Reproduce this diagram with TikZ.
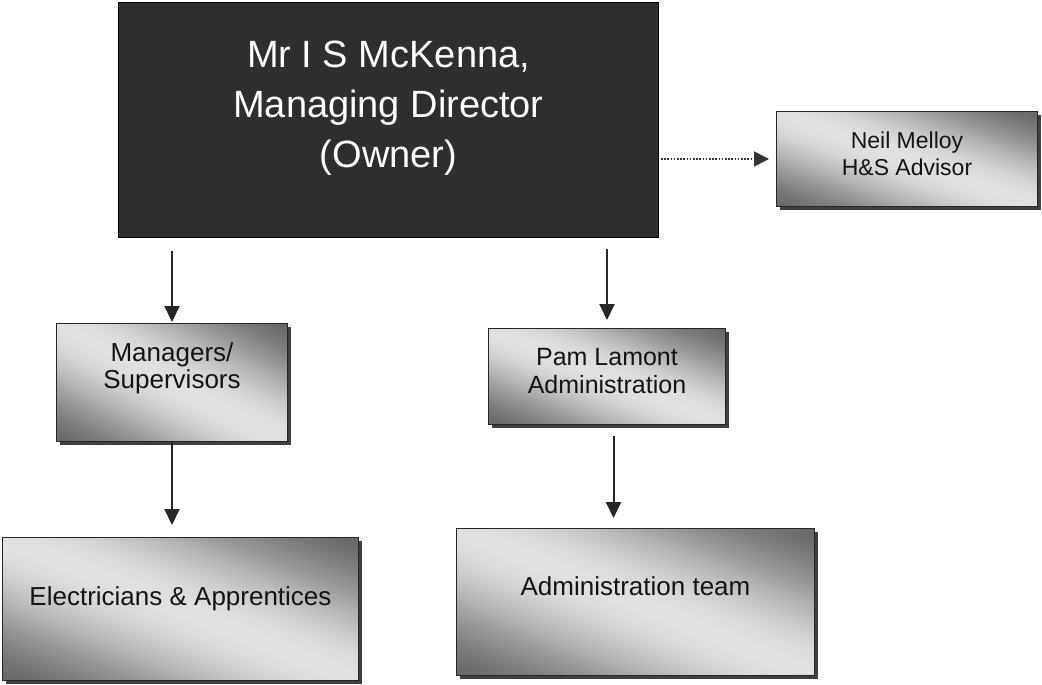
\documentclass[tikz,border=0pt]{standalone}
\usepackage{fontspec}
\setmainfont{Liberation Sans}
\usetikzlibrary{arrows.meta,shadows}
\pgfdeclarefunctionalshading{boxshade}{\pgfpoint{0bp}{0bp}}{\pgfpoint{100bp}{100bp}}{}{%
  add 100 sub 50 div dup mul -1.8 mul 2.71828 exch exp 0.58 mul 0.3 add dup dup}
\begin{document}
\begin{tikzpicture}[x=1pt,y=-1pt,
  box/.style={draw=black!85, line width=1pt, anchor=north west, inner sep=0pt,
    align=center, text=black!92,
    drop shadow={shadow xshift=3pt,shadow yshift=-3pt,fill=black!75,opacity=1},
    shade, shading=boxshade},
  headbox/.style={draw=black, line width=1pt, fill=black!82, anchor=north west,
    inner sep=0pt, align=center, text=white},
  arr/.style={draw=black!85, line width=2pt, -{Triangle[width=15pt,length=16pt]}},
  dotarr/.style={draw=black!80, line width=1.6pt, dash pattern=on 1.6pt off 1.6pt,
    -{Triangle[width=15pt,length=15pt]}}
]
\fill[white] (0,0) rectangle (1042,685);
\useasboundingbox (0,0) rectangle (1042,685);

\node[headbox, minimum width=540, minimum height=235, text height=104.4, text depth=10,
  font=\fontsize{38}{50}\selectfont] (top) at (118,2)
  {Mr I S McKenna,\\Managing Director\\(Owner)};

\node[box, minimum width=261, minimum height=95, text height=41, text depth=8,
  font=\fontsize{23}{27}\selectfont] (neil) at (776,111)
  {Neil Melloy\\H\&S Advisor};

\node[box, minimum width=231, minimum height=118, text height=20, text depth=8,
  font=\fontsize{26}{27}\selectfont] (mgr) at (56,323)
  {Managers/\\Supervisors};

\node[box, minimum width=237, minimum height=96, text height=42.6, text depth=8,
  font=\fontsize{25}{28}\selectfont] (pam) at (488,328)
  {Pam Lamont\\Administration};

\node[box, minimum width=356, minimum height=143, text height=20, text depth=27,
  font=\fontsize{26}{30}\selectfont] (elec) at (2,537)
  {Electricians \& Apprentices};

\node[box, minimum width=358, minimum height=147, text height=20, text depth=33,
  font=\fontsize{26}{30}\selectfont] (admin) at (456,528)
  {Administration team};

\draw[arr, shorten <=13pt, shorten >=1pt] (top.south -| mgr.north) -- (mgr.north);
\draw[arr, shorten <=11pt, shorten >=8pt] (top.south -| pam.north) -- (pam.north);
\draw[arr, shorten >=12pt] (mgr.south) -- (mgr.south |- elec.north);
\draw[arr, shorten <=11pt, shorten >=10pt] ([xshift=6.5pt]pam.south) -- ([xshift=6.5pt]pam.south |- admin.north);
\draw[dotarr, shorten <=2pt, shorten >=7pt] (top.east |- neil.west) -- (neil.west);
\end{tikzpicture}
\end{document}
